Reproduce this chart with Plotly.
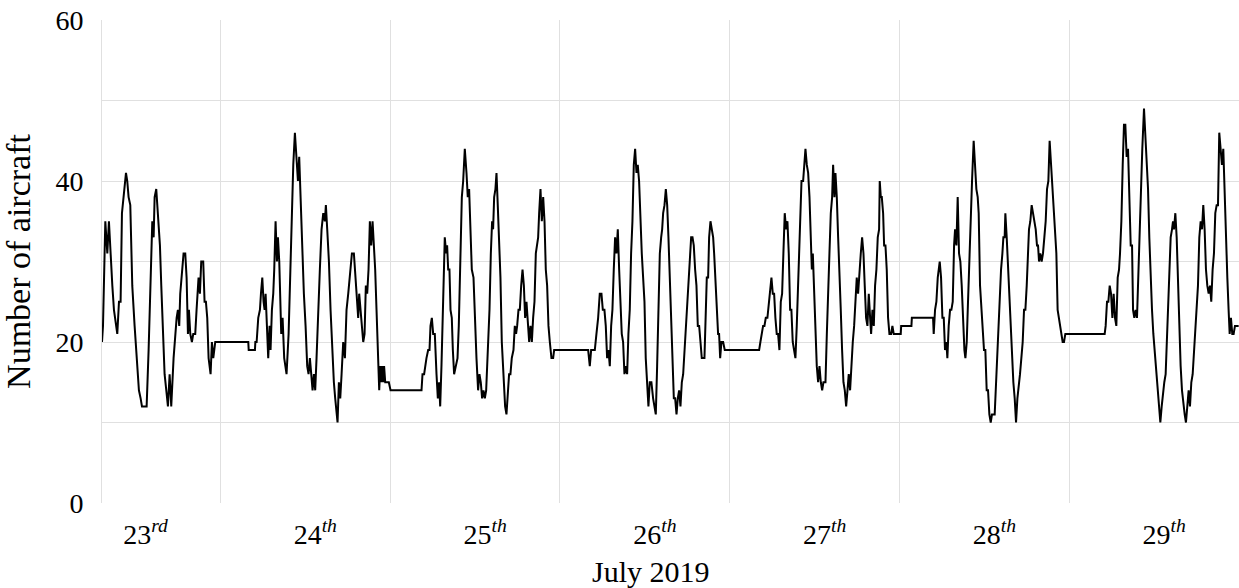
import pandas as pd
import plotly.graph_objects as go

# hours since 2019-07-23 00:00 and aircraft counts
hours = [
    7.26, 7.40, 7.73, 8.01, 8.24, 8.43, 8.57, 8.72, 8.95, 9.14, 9.42, 9.66, 9.89,
    10.08, 10.36, 10.65, 10.83, 11.02, 11.26, 11.54, 11.87, 12.20, 12.48, 12.72,
    12.91, 13.28, 13.57, 13.85, 14.13, 14.37, 14.56, 14.70, 14.93, 15.17, 15.45,
    15.64, 15.87, 16.11, 16.35, 16.58, 16.82, 17.05, 17.38, 17.62, 17.81, 17.99,
    18.18, 18.32, 18.56, 18.79, 19.03, 19.22, 19.41, 19.55, 19.74, 19.97, 20.16,
    20.44, 20.63, 20.91, 21.10, 21.29, 21.57, 21.76, 21.95, 22.14, 22.33, 22.61,
    22.80, 22.99, 23.27,
    27.94, 28.00, 28.88, 28.94, 29.12, 29.35, 29.59, 29.73, 29.92, 30.10, 30.25,
    30.39, 30.58, 30.76, 30.95, 31.09, 31.28, 31.47, 31.61, 31.80, 31.99, 32.13,
    32.32, 32.46, 32.60, 32.79, 33.02, 33.35, 33.64, 33.83, 34.06, 34.30, 34.53,
    34.77, 34.96, 35.14, 35.33, 35.57, 35.80, 36.04, 36.27, 36.46, 36.65, 36.84,
    37.03, 37.22, 37.40, 37.59, 37.83, 38.06, 38.30, 38.54, 38.77, 38.91, 39.10,
    39.34, 39.57, 39.81, 40.04, 40.23, 40.42, 40.56, 40.75, 40.94, 41.13, 41.36,
    41.60, 41.83, 42.07, 42.30, 42.59, 42.87, 43.10, 43.34, 43.48, 43.62, 43.81,
    44.00, 44.19, 44.38, 44.56, 44.75, 44.94, 45.13, 45.32, 45.51, 45.69, 45.88,
    46.07, 46.26, 46.45, 46.60, 46.73, 46.87, 47.00, 47.14, 47.30, 47.81, 48.05,
    52.43, 52.57, 52.80, 52.95, 53.13, 53.37, 53.56, 53.70, 53.89, 54.08, 54.31,
    54.55, 54.74, 54.92, 55.07, 55.25, 55.49, 55.72, 55.91, 56.05, 56.20, 56.38,
    56.53, 56.71, 56.86, 57.04, 57.28, 57.52, 57.70, 57.94, 58.13, 58.32, 58.55,
    58.79, 58.97, 59.16, 59.35, 59.54, 59.78, 59.96, 60.20, 60.43, 60.62, 60.81,
    61.00, 61.19, 61.38, 61.57, 61.80, 62.04, 62.23, 62.41, 62.55, 62.70, 62.88,
    63.03, 63.21, 63.40, 63.59, 63.78, 64.02, 64.25, 64.44, 64.63, 64.81, 65.00,
    65.19, 65.43, 65.62, 65.80, 65.95, 66.14,
    66.33, 66.52, 66.71, 66.90, 67.08, 67.27, 67.46, 67.65, 67.84, 68.03, 68.21,
    68.40, 68.59, 68.78, 68.92, 69.06, 69.25, 69.44, 69.63, 69.82, 70.00, 70.19,
    70.38, 70.57, 70.80, 71.04, 71.18, 75.99, 76.22, 76.41, 76.93, 77.16, 77.40,
    77.63, 77.87, 78.06, 78.29, 78.48, 78.67, 78.86, 79.05, 79.24, 79.42, 79.61,
    79.80, 79.99, 80.18, 80.37, 80.55, 80.74, 80.93, 81.12, 81.31, 81.50, 81.68,
    81.87, 82.06, 82.25, 82.44, 82.63, 82.82, 83.00, 83.19, 83.38, 83.57, 83.76,
    83.95, 84.13, 84.32, 84.51, 84.70, 84.93, 85.17, 85.36, 85.55, 85.74, 85.92,
    86.12, 86.31, 86.45, 86.59, 86.78, 86.97, 87.16, 87.34, 87.53, 87.72, 87.91,
    88.10, 88.29, 88.48, 88.66, 88.85, 89.04, 89.23, 89.42, 89.61, 89.79, 89.98,
    90.17, 90.36, 90.55, 90.74, 90.92, 91.11, 91.30, 91.49, 91.68, 91.87, 92.05,
    92.43, 92.57, 92.76, 92.95, 93.09, 93.28, 93.47, 93.66, 93.80, 93.99, 94.17,
    94.36, 94.50, 94.65, 94.83, 95.07, 95.30, 100.16, 100.34, 100.53, 100.72,
    100.91, 101.10, 101.33, 101.52, 101.71, 101.90, 102.09, 102.28, 102.46,
    102.65, 102.84, 103.03, 103.22, 103.41, 103.59, 103.78, 103.97, 104.16,
    104.35, 104.54, 104.72, 104.91, 105.10, 105.29, 105.48, 105.67,
    105.91, 106.15, 106.38, 106.52, 106.71, 106.90, 107.09, 107.28, 107.46,
    107.61, 107.75, 107.94, 108.12, 108.31, 108.50, 108.69, 108.88, 109.07,
    109.25, 109.54, 109.73, 109.91, 110.10, 110.29, 110.48, 110.62, 110.81,
    110.95, 111.14, 111.33, 111.52, 111.70, 111.89, 112.08, 112.27, 112.46,
    112.65, 112.83, 113.02, 113.21, 113.40, 113.59, 113.78, 113.96, 114.15,
    114.34, 114.53, 114.72, 114.91, 115.09, 115.28, 115.47, 115.66, 115.85,
    115.99, 116.18, 116.37, 116.55, 116.74, 116.93, 117.12, 117.21, 117.36,
    117.50, 117.69, 117.83, 118.02, 118.20, 118.39, 118.58, 118.82, 119.00,
    119.19, 120.18, 120.24, 121.69, 121.75, 124.75, 124.84, 125.03, 125.22,
    125.41, 125.60,
    125.69, 125.88, 126.07, 126.26, 126.44, 126.63, 126.77, 126.96, 127.15,
    127.34, 127.53, 127.72, 127.86, 128.05, 128.23, 128.42, 128.61, 128.80,
    128.99, 129.18, 129.32, 129.51, 129.69, 129.88, 130.07, 130.26, 130.49,
    130.68, 130.87, 131.06, 131.20, 131.39, 131.58, 131.77, 131.95, 132.14,
    132.33, 132.52, 132.71, 132.90, 133.08, 133.46, 133.65, 133.84, 134.03,
    134.22, 134.36, 134.55, 134.69, 134.87, 134.97, 135.16, 135.35, 135.53,
    135.72, 135.91, 136.10, 136.29, 136.48, 136.67, 136.85, 137.04, 137.23,
    137.42, 137.61, 137.80, 137.99, 138.17, 138.31, 138.50, 138.69, 138.88,
    139.07, 139.26, 139.44, 139.59, 139.73, 139.91, 140.10, 140.29, 140.48,
    140.67, 140.86, 141.05, 141.23, 141.42, 141.61, 141.80, 141.99, 142.18,
    142.36, 142.55, 142.74, 142.88, 143.07, 143.26, 143.45,
    149.01, 149.15, 149.34, 149.53, 149.72, 149.91, 150.10, 150.28, 150.47,
    150.66, 150.85, 151.04, 151.18, 151.37, 151.56, 151.74, 151.93, 152.12,
    152.31, 152.50, 152.69, 152.88, 153.02, 153.20, 153.39, 153.58, 153.77,
    153.96, 154.15, 154.33, 154.57, 154.76, 154.95, 155.14, 155.32, 155.51,
    155.70, 155.89, 156.08, 156.27, 156.45, 156.64, 156.88, 157.07, 157.26,
    157.44, 157.63, 157.82, 158.01, 158.20, 158.34, 158.53, 158.67, 158.81,
    159.00, 159.19, 159.37, 159.56, 159.75, 159.94, 160.13, 160.32, 160.50,
    160.69, 160.88, 161.07, 161.26, 161.45, 161.64, 161.82, 162.01, 162.20,
    162.39, 162.58, 162.77, 162.95, 163.14, 163.33, 163.52, 163.71, 163.90,
    164.08, 164.27, 164.46, 164.65, 164.84, 165.03, 165.21, 165.40, 165.59,
    165.78, 165.97, 166.16, 166.35, 166.53, 166.68, 166.86, 167.05, 167.24,
    167.43, 167.95,
]

counts = [
    20, 22, 35, 31, 35, 31, 29, 27, 24, 23, 21, 25, 25,
    36, 39, 41, 40, 38, 37, 27, 22, 18, 14, 13,
    12, 12, 12, 19, 28, 35, 33, 38, 39, 36, 32,
    27, 21, 16, 14, 12, 16, 12, 18, 21, 23, 24,
    22, 26, 29, 31, 31, 28, 21, 24, 21, 20, 21,
    21, 24, 28, 26, 30, 30, 25, 25, 23, 18, 16,
    20, 18, 20,
    20, 19, 19, 20, 20, 23, 24, 26, 28, 25, 24,
    26, 22, 18, 22, 19, 24, 26, 29, 35, 30, 33,
    30, 25, 21, 23, 18, 16, 21, 27, 36, 42, 46,
    42, 40, 43, 38, 30, 26, 22, 17, 16, 18, 16,
    14, 16, 14, 18, 25, 29, 34, 36, 35, 37, 34,
    30, 24, 19, 15, 13, 11, 10, 15, 13, 16, 20,
    18, 24, 26, 28, 31, 31, 28, 26, 23, 26, 24,
    21, 20, 21, 27, 26, 29, 35, 32, 35, 32, 29,
    24, 19, 14, 17, 15, 17, 15, 17, 15, 15, 14,
    14, 16, 16, 17, 18, 19, 19, 22, 23, 21, 21,
    16, 13, 15, 12, 17, 24, 33, 31, 32, 29, 29,
    24, 23, 19, 16, 17, 18, 22, 32, 38, 40, 44,
    41, 38, 39, 33, 29, 28, 23, 18, 14, 16, 15,
    13, 14, 13, 14, 19, 24, 31, 35, 34, 38, 39,
    41, 37, 33, 28, 20, 15, 12, 11, 14, 16, 16,
    18, 19, 22, 21, 22, 24,
    24, 27, 29, 27, 23, 25, 22, 20, 22, 20, 23,
    25, 31, 32, 33, 36, 39, 35, 38, 35, 29, 27,
    22, 20, 18, 18, 19, 19, 17, 19, 19, 21, 23,
    26, 26, 24, 24, 22, 18, 19, 17, 22, 24, 29,
    33, 31, 34, 29, 24, 21, 20, 16, 17, 16, 21,
    24, 31, 35, 42, 44, 41, 42, 40, 34, 31, 28,
    25, 18, 14, 12, 15, 15, 13, 12, 11, 17, 25,
    31, 33, 34, 36, 37, 39, 37, 33, 28, 23, 18,
    13, 13, 11, 13, 14, 12, 15, 16, 19, 22, 25,
    27, 30, 33, 33, 32, 29, 27, 22, 22, 20, 18,
    18, 23, 28, 28, 33, 35, 34, 33, 31, 28, 25,
    21, 21, 18, 20, 20, 19, 19, 20, 21, 22,
    22, 23, 23, 25, 27, 28, 26, 26, 23,
    21, 21, 19, 25, 26, 31, 36, 34,
    35, 31, 24, 24, 20, 19, 18, 22, 27,
    33, 40, 40, 42, 44, 42, 41, 38, 32,
    29, 31, 26, 22, 17, 15, 17, 15, 14,
    15, 15, 21, 27, 31, 36, 38, 42, 38,
    41, 38, 33, 29, 24, 19, 15, 14, 12,
    14, 16, 14, 18, 20, 22, 25, 28, 26,
    29, 31, 33, 31, 27, 23, 22, 26, 23,
    21, 24, 22, 27, 29, 33, 34, 40, 38,
    38, 36, 32, 32, 29, 23, 21, 21, 22,
    21, 21, 22, 22, 23, 23, 21, 24, 25,
    28, 29,
    30, 28, 23, 23, 19, 20, 18, 22, 24,
    24, 25, 32, 34, 32, 38, 31, 30, 27,
    22, 19, 18, 20, 25, 31, 36, 40, 45,
    42, 39, 38, 36, 27, 24, 22, 19, 19,
    14, 14, 11, 10, 11, 11, 15, 19, 24,
    27, 29, 31, 33, 33, 36, 33, 29, 25,
    22, 19, 15, 13, 10, 13, 15, 16, 18,
    20, 24, 24, 27, 30, 34, 35, 37, 36,
    35, 34, 32, 32, 30, 31, 30, 31, 33,
    35, 39, 40, 45, 42, 39, 36, 33, 31,
    24, 23, 22, 21, 20, 20, 21,
    21, 22, 25, 25, 27, 26, 23, 26, 23,
    22, 28, 29, 31, 35, 42, 47, 47, 43,
    44, 37, 32, 32, 24, 23, 24, 23, 29,
    35, 40, 44, 49, 46, 43, 39, 33, 27,
    24, 21, 19, 16, 14, 13, 10, 12, 14,
    15, 16, 21, 26, 29, 33, 34, 35, 34,
    36, 33, 27, 22, 17, 14, 12, 11, 10,
    12, 14, 12, 15, 16, 19, 22, 24, 27,
    33, 35, 34, 37, 34, 29, 27, 26, 27,
    25, 29, 31, 36, 37, 37, 46, 44, 42,
    44, 38, 34, 28, 24, 21, 23, 21, 21,
    22, 22,
]

day_labels = ["23<sup><i>rd</i></sup>", "24<sup><i>th</i></sup>", "25<sup><i>th</i></sup>",
              "26<sup><i>th</i></sup>", "27<sup><i>th</i></sup>", "28<sup><i>th</i></sup>",
              "29<sup><i>th</i></sup>"]
y_ticks = [0, 10, 20, 30, 40, 50, 60]
y_tick_text = ["0", " ", "20", " ", "40", " ", "60"]

base = pd.Timestamp("2019-07-23")
times = base + pd.to_timedelta(hours, unit="h")
noons = [base + pd.Timedelta(days=i, hours=12) for i in range(7)]
midnights = [base + pd.Timedelta(days=i) for i in range(1, 7)]

FONT = "Liberation Serif"
GRID = "#e0e0e0"

fig = go.Figure()
fig.add_trace(go.Scatter(x=times, y=counts, mode="lines",
                         line=dict(color="black", width=2), showlegend=False))

fig.update_layout(
    width=1239, height=588,
    margin=dict(l=102, r=0, t=20, b=85, autoexpand=False),
    plot_bgcolor="white", paper_bgcolor="white",
    font=dict(family=FONT, size=28, color="black"),
    xaxis=dict(
        type="date", automargin=False,
        range=[times[0], base + pd.Timedelta(days=7)],
        tickmode="array", tickvals=noons, ticktext=day_labels,
        showgrid=False, zeroline=False, showline=False, ticks="",
        ticklabelshift=10, ticklabelstandoff=12, ticklabeloverflow="allow",
        tickfont=dict(family=FONT, size=28, color="black"),
        minor=dict(tickmode="array", tickvals=midnights, showgrid=True,
                   gridcolor=GRID, gridwidth=1, ticks=""),
    ),
    yaxis=dict(
        range=[0, 60], automargin=False,
        tickmode="array", tickvals=y_ticks, ticktext=y_tick_text,
        showgrid=True, gridcolor=GRID, gridwidth=1, zeroline=False,
        showline=True, linecolor=GRID, linewidth=1, ticks="",
        ticklabelstandoff=12, ticklabeloverflow="allow",
        tickfont=dict(family=FONT, size=28, color="black"),
        title=dict(text="Number of aircraft", standoff=14,
                   font=dict(family=FONT, size=34, color="black")),
    ),
)

fig.add_annotation(text="July 2019", xref="paper", yref="paper",
                   x=0.483, y=-0.141, xanchor="center", yanchor="middle",
                   showarrow=False, font=dict(family=FONT, size=30, color="black"))

# remove the default page margin so the figure starts at the window corner
fig.write_html("out.html", config={"displayModeBar": False},
               post_script="document.body.style.margin='0';document.body.style.overflow='hidden';")
